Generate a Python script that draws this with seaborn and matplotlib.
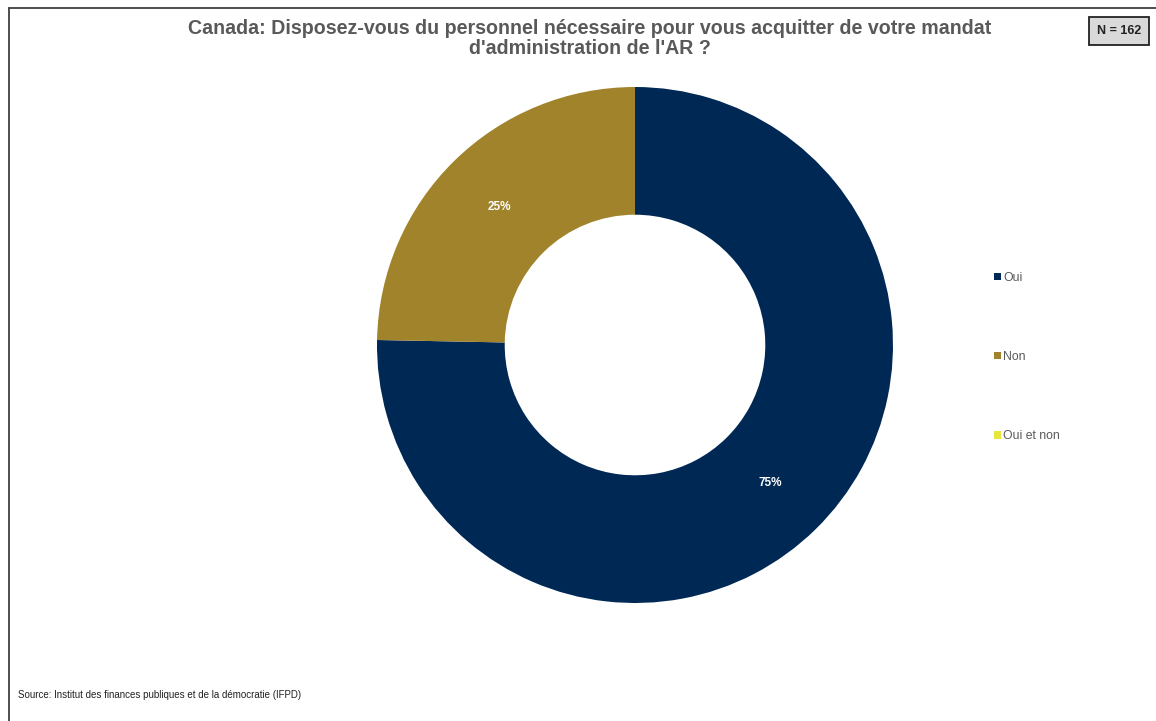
import matplotlib
matplotlib.use("Agg")
import matplotlib.pyplot as plt
from matplotlib.lines import Line2D
import seaborn as sns

# Survey answers (N = 162)
categories = ["Oui", "Non", "Oui et non"]
counts = [122, 40, 0]
colors = ["#002855", "#A0832A", "#E6E63C"]

title = ("Canada: Disposez-vous du personnel nécessaire pour vous acquitter de votre mandat\n"
         "d'administration de l'AR ?")
n_label = "N = 162"
source = "Source: Institut des finances publiques et de la démocratie (IFPD)"

sns.set_theme(style="white")
plt.rcParams["font.family"] = ["Liberation Sans", "DejaVu Sans"]

fig = plt.figure(figsize=(11.56, 7.21), dpi=100)
fig.patch.set_facecolor("white")

# pie axes: centre around (635, 345) px, radius about 258 px
W, H = 1156, 721
cx, cy, r = 635, 345, 258
ax = fig.add_axes([(cx - r) / W, (H - cy - r) / H, 2 * r / W, 2 * r / H])


def pct_fmt(p):
    return f"{p:.0f}%" if p > 0.5 else ""


wedges, _, autotexts = ax.pie(
    counts, colors=colors, startangle=90, counterclock=False,
    wedgeprops=dict(width=0.495, edgecolor="none"),
    autopct=pct_fmt, pctdistance=0.75,
    textprops=dict(color="white", fontsize=8.5, fontweight="bold"),
)
ax.set_xlim(-1, 1)
ax.set_ylim(-1, 1)
ax.axis("off")

fig.text(590 / W, 1 - 38.5 / H, title, ha="center", va="center",
         fontsize=14.1, fontweight="bold", color="#595959", linespacing=1.05)

fig.text(1119 / W, 1 - 31 / H, n_label, ha="center", va="center",
         fontsize=9, fontweight="bold", color="#222222",
         bbox=dict(boxstyle="square,pad=0.65", facecolor="#D9D9D9",
                   edgecolor="#222222", linewidth=1.3))

leg = fig.legend(wedges, categories, loc="center left",
                 bbox_to_anchor=(983 / W, 1 - 357 / H), frameon=False,
                 fontsize=8.8, labelspacing=5.5, handlelength=0.55,
                 handleheight=0.55, handletextpad=0.2)
for t in leg.get_texts():
    t.set_color("#595959")

fig.text(18 / W, 1 - 695 / H, source, ha="left", va="center",
         fontsize=7, color="#222222")

# chart frame (left and top edges visible)
fig.add_artist(Line2D([8.5 / W, 8.5 / W], [0, 1 - 7.5 / H], color="#404040", lw=1.3))
fig.add_artist(Line2D([8.5 / W, 1], [1 - 7.5 / H, 1 - 7.5 / H], color="#404040", lw=1.3))

fig.savefig("out.png", dpi=100, facecolor="white")
